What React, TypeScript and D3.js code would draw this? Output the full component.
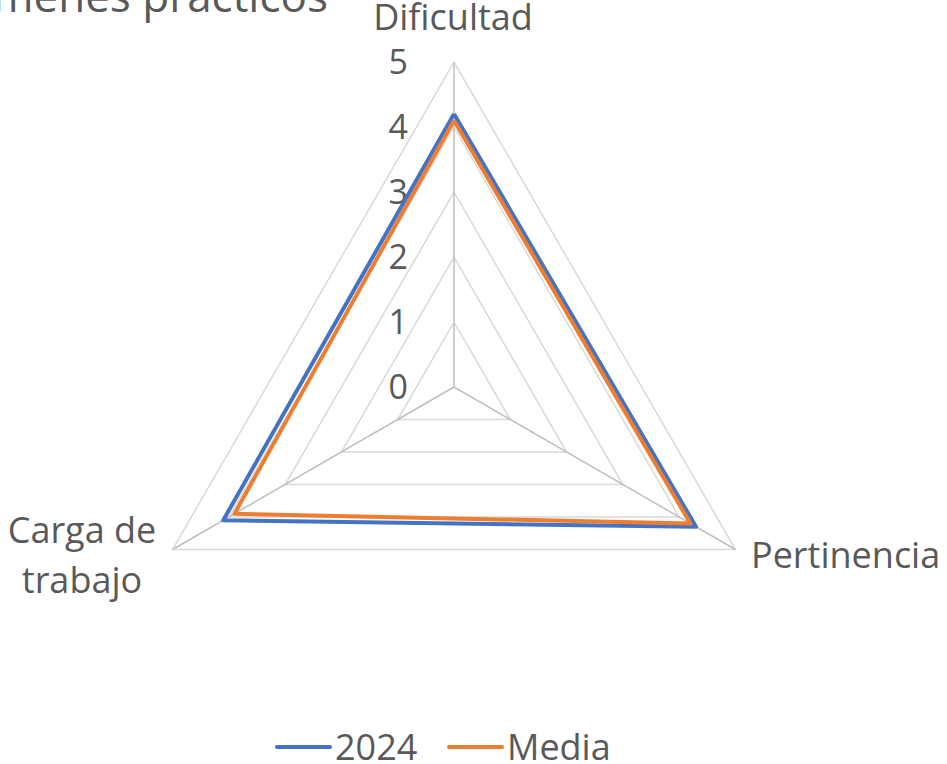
import * as d3 from "d3";

const axes = ["Dificultad", "Pertinencia", "Carga de trabajo"];
const series2024 = [4.2, 4.3, 4.1];
const seriesMedia = [4.1, 4.2, 3.9];
const ticks = [0, 1, 2, 3, 4, 5];
const seriesNames = ["2024", "Media"];
const colors = ["#4472C4", "#ED7D31"];
const title = "Exámenes prácticos";

const W = 947;
const H = 764;
const cx = 454;
const cy = 387;
const R = 325;
const font = "'Open Sans', 'Noto Sans', sans-serif";
const textColor = "#595959";

export default function App() {
  const r = d3.scaleLinear().domain([0, 5]).range([0, R]);
  const angle = d3
    .scalePoint<number>()
    .domain(d3.range(axes.length + 1))
    .range([0, 2 * Math.PI]);
  const pt = (i: number, v: number): [number, number] => {
    const a = angle(i)!;
    return [cx + r(v) * Math.sin(a), cy - r(v) * Math.cos(a)];
  };
  const ring = (v: number) =>
    d3.line()(axes.map((_, i) => pt(i, v)).concat([pt(0, v)]))!;
  const poly = (vals: number[]) =>
    d3.line()(vals.map((v, i) => pt(i, v)).concat([pt(0, vals[0])]))!;

  return (
    <svg
      width={W}
      height={H}
      style={{ position: "absolute", left: 0, top: 0, background: "#fff" }}
      fontFamily={font}
    >
      {/* title, cropped off the left and top edges */}
      <text x={328} y={12} textAnchor="end" fontSize={44} fill={textColor}>
        {title}
      </text>

      {/* web rings */}
      {ticks.slice(1).map((t) => (
        <path key={t} d={ring(t)} fill="none" stroke="#d9d9d9" strokeWidth={1.5} />
      ))}
      {/* spokes */}
      {axes.map((_, i) => {
        const [x, y] = pt(i, 5);
        return <line key={i} x1={cx} y1={cy} x2={x} y2={y} stroke="#bfbfbf" strokeWidth={1.5} />;
      })}

      {/* tick labels */}
      {ticks.map((t) => (
        <text
          key={t}
          x={cx - 46}
          y={cy - r(t)}
          dy="0.357em"
          textAnchor="end"
          fontSize={34}
          fill={textColor}
        >
          {t}
        </text>
      ))}

      {/* series */}
      {[series2024, seriesMedia].map((vals, k) => (
        <path
          key={k}
          d={poly(vals)}
          fill="none"
          stroke={colors[k]}
          strokeWidth={4}
          strokeLinejoin="round"
        />
      ))}

      {/* category labels */}
      <text x={453} y={30} textAnchor="middle" fontSize={36} fill={textColor}>
        {axes[0]}
      </text>
      <text x={751} y={568} textAnchor="start" fontSize={36} fill={textColor}>
        {axes[1]}
      </text>
      <text textAnchor="middle" fontSize={36} fill={textColor}>
        <tspan x={82} y={543}>Carga de</tspan>
        <tspan x={82} y={593}>trabajo</tspan>
      </text>

      {/* legend */}
      {seriesNames.map((n, k) => {
        const x0 = k === 0 ? 277 : 449;
        return (
          <g key={n}>
            <line x1={x0} x2={x0 + 53} y1={747} y2={747} stroke={colors[k]} strokeWidth={4} strokeLinecap="round" />
            <text x={x0 + 58} y={760} fontSize={36} fill={textColor}>
              {n}
            </text>
          </g>
        );
      })}
    </svg>
  );
}
